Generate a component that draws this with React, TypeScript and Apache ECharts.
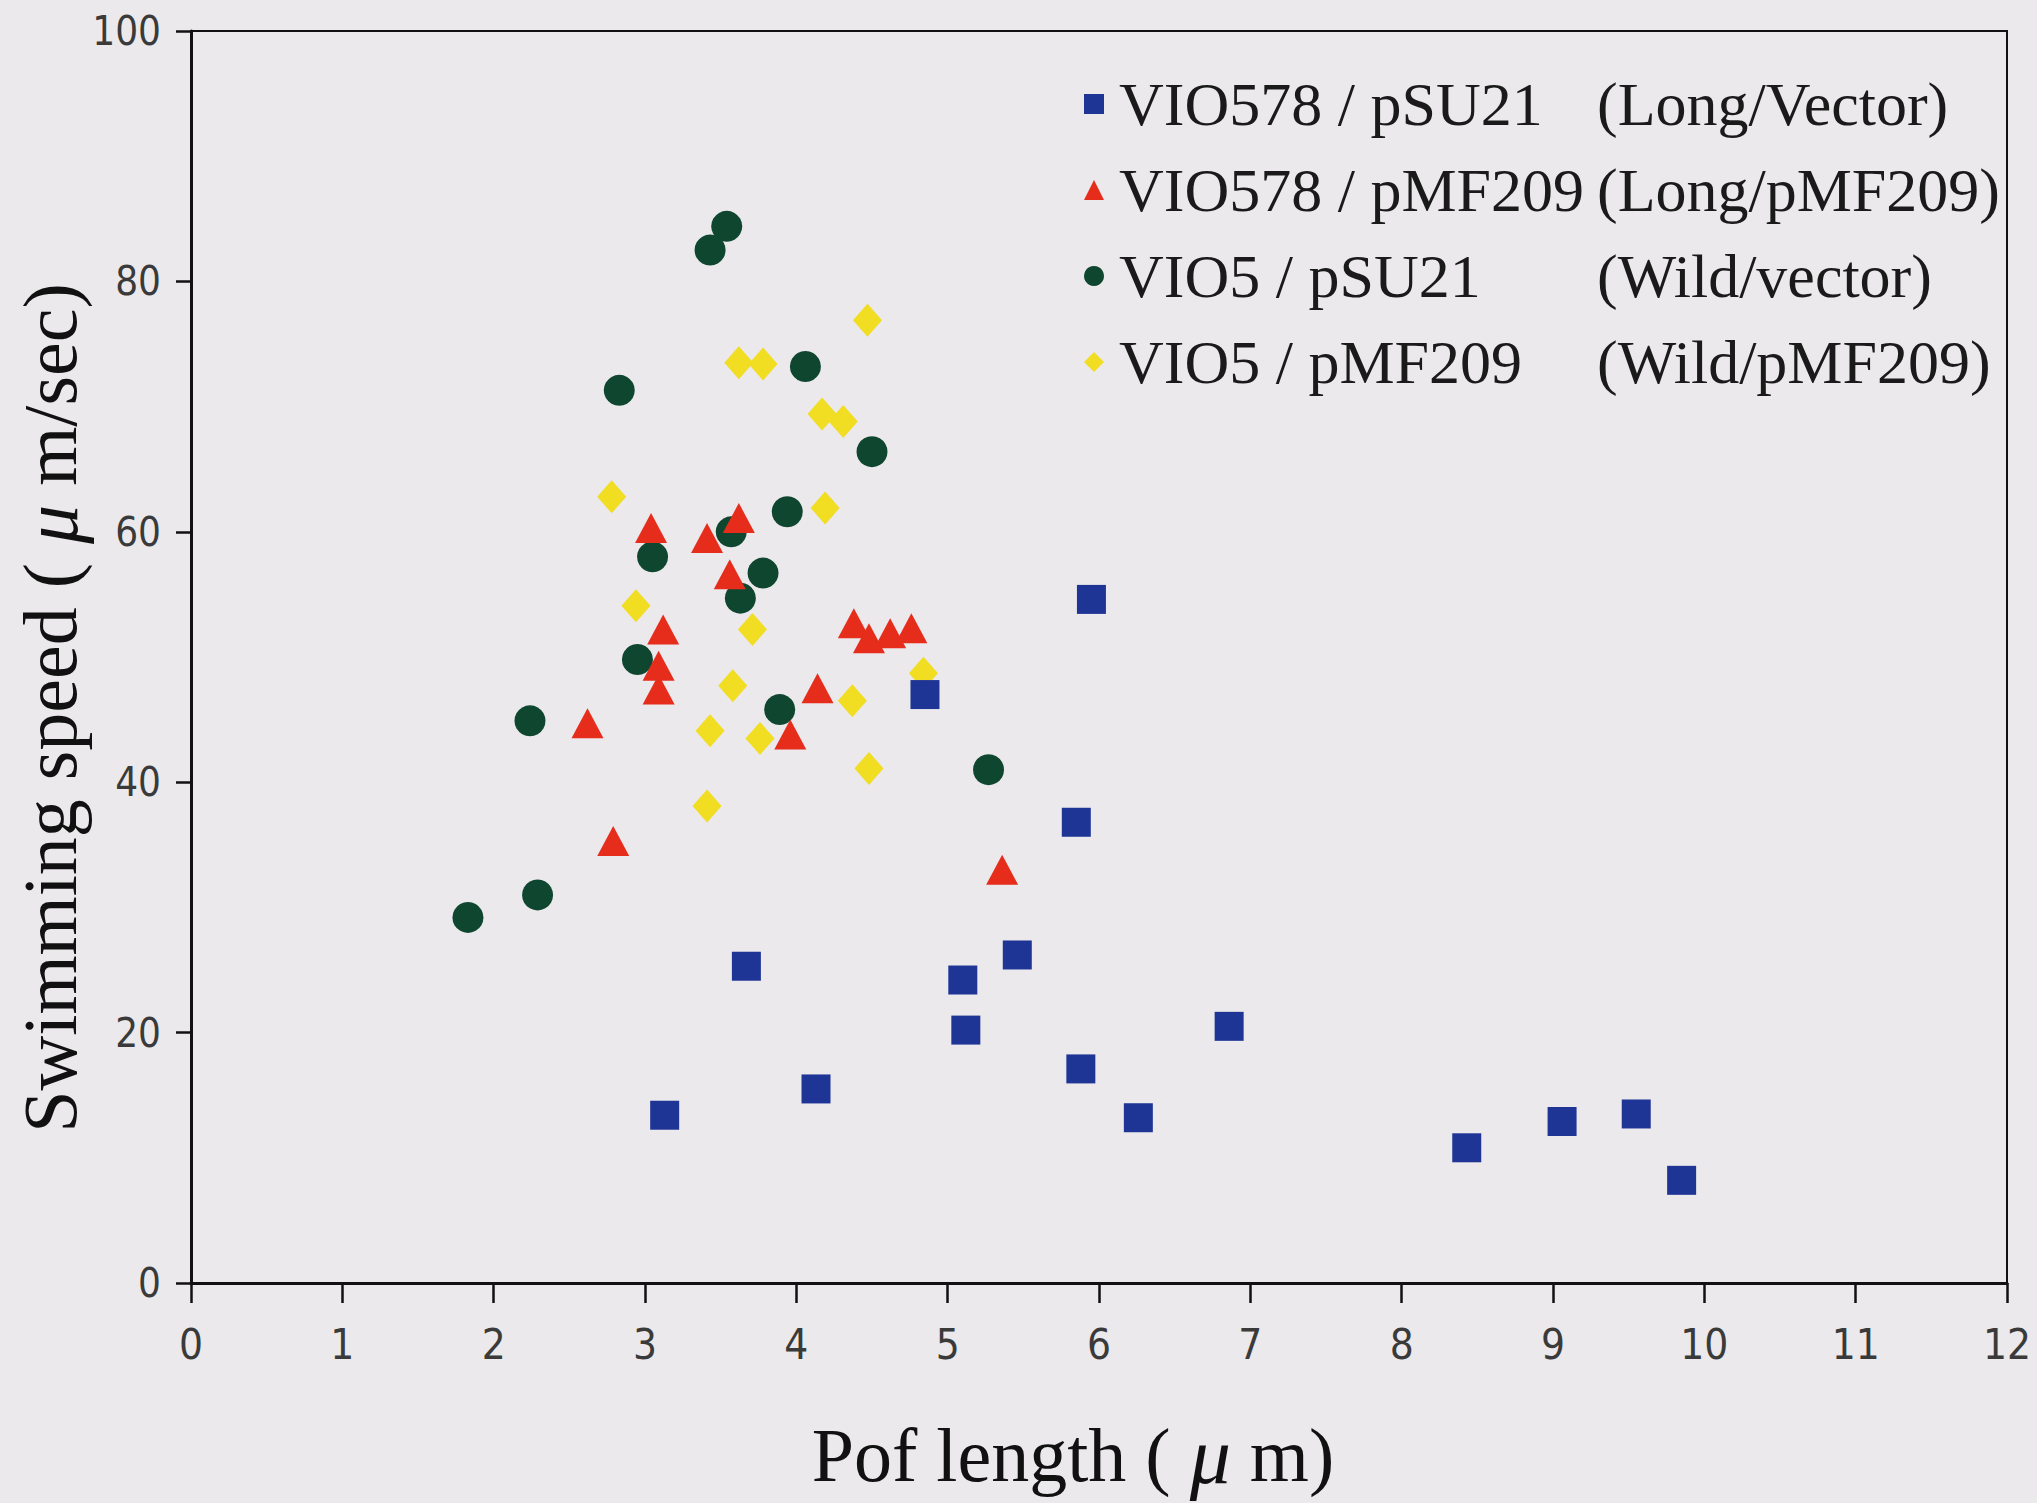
import React, { useEffect, useRef } from "react";
import * as echarts from "echarts";

// Series data: [Pof length (µm), swimming speed (µm/sec)]
const longVector: [number, number][] = [
  [3.13, 13.4], [3.67, 25.3], [4.13, 15.5], [4.85, 47.0], [5.10, 24.2], [5.12, 20.2],
  [5.46, 26.2], [5.85, 36.8], [5.95, 54.6], [5.88, 17.1], [6.26, 13.2], [6.86, 20.5],
  [8.43, 10.8], [9.06, 12.9], [9.55, 13.5], [9.85, 8.2],
];
const longPMF: [number, number][] = [
  [2.62, 44.7], [2.79, 35.3], [3.04, 60.3], [3.12, 52.2], [3.09, 49.3], [3.09, 47.4],
  [3.41, 59.5], [3.56, 56.6], [3.62, 61.1], [3.96, 43.8], [4.14, 47.5], [4.38, 52.7],
  [4.48, 51.5], [4.62, 51.9], [4.76, 52.3], [5.36, 33.0],
];
const wildVector: [number, number][] = [
  [1.83, 29.2], [2.24, 44.9], [2.29, 31.0], [2.83, 71.3], [2.95, 49.8], [3.05, 58.0],
  [3.43, 82.5], [3.54, 84.4], [3.57, 60.0], [3.63, 54.7], [3.78, 56.7], [3.89, 45.8],
  [3.94, 61.6], [4.06, 73.2], [4.50, 66.4], [5.27, 41.0],
];
const wildPMF: [number, number][] = [
  [2.78, 62.8], [2.94, 54.1], [3.41, 38.1], [3.43, 44.1], [3.58, 47.7], [3.62, 73.5],
  [3.71, 52.2], [3.76, 43.5], [3.78, 73.4], [4.17, 69.4], [4.19, 61.9], [4.31, 68.8],
  [4.37, 46.5], [4.47, 76.9], [4.48, 41.1], [4.84, 48.7],
];

const seriesNames = ["VIO578 / pSU21", "VIO578 / pMF209", "VIO5 / pSU21", "VIO5 / pMF209"];
const seriesDesc = ["(Long/Vector)", "(Long/pMF209)", "(Wild/vector)", "(Wild/pMF209)"];

const xTitle = "Pof length";
const yTitle = "Swimming speed";

const SERIF = "'Liberation Serif', 'Times New Roman', serif";
const NARROW = "'Liberation Sans Narrow', 'DejaVu Sans Condensed', 'DejaVu Sans', sans-serif";

export default function App() {
  const ref = useRef<HTMLDivElement>(null);
  useEffect(() => {
    if (!ref.current) return;
    const chart = echarts.init(ref.current, null, { renderer: "svg" });
    const descOf = (n: string) => seriesDesc[seriesNames.indexOf(n)];
    chart.setOption({
      animation: false,
      backgroundColor: "#ebe9eb",
      grid: {
        left: 191, right: 30, top: 31, bottom: 220,
        show: true, borderColor: "#111", borderWidth: 2, backgroundColor: "transparent",
      },
      legend: {
        orient: "vertical",
        left: 1079,
        top: 68,
        itemGap: 24,
        itemWidth: 20,
        itemHeight: 20,
        data: [
          { name: seriesNames[0], icon: "rect" },
          { name: seriesNames[1], icon: "triangle" },
          { name: seriesNames[2], icon: "circle" },
          { name: seriesNames[3], icon: "diamond" },
        ],
        formatter: (n: string) => `{a|${n}}{b|${descOf(n)}}`,
        textStyle: {
          color: "#1a1a1a",
          fontFamily: SERIF,
          fontSize: 62,
          rich: {
            a: { width: 478, padding: [0, 0, 0, 10], fontFamily: SERIF, fontSize: 62, color: "#1a1a1a", lineHeight: 64 },
            b: { fontFamily: SERIF, fontSize: 62, color: "#1a1a1a", lineHeight: 64 },
          },
        },
      },
      xAxis: {
        type: "value",
        min: 0, max: 12, interval: 1,
        axisLine: { show: true, lineStyle: { color: "#111", width: 3 } },
        axisTick: { show: true, length: 20, lineStyle: { color: "#111", width: 2.5 } },
        axisLabel: { margin: 40, fontSize: 42, color: "#3a3a3a", fontFamily: NARROW },
        splitLine: { show: false },
      },
      yAxis: {
        type: "value",
        min: 0, max: 100, interval: 20,
        axisLine: { show: true, lineStyle: { color: "#111", width: 3 } },
        axisTick: { show: true, length: 15, lineStyle: { color: "#111", width: 2.5 } },
        axisLabel: { margin: 30, fontSize: 40, color: "#3a3a3a", fontFamily: NARROW },
        splitLine: { show: false },
      },
      graphic: [
        {
          type: "text",
          x: 1073, y: 1455,
          style: {
            text: `${xTitle} ( {mu|μ} m)`,
            fontFamily: SERIF, fontSize: 76, fill: "#111",
            align: "center", verticalAlign: "middle",
            rich: { mu: { fontFamily: SERIF, fontSize: 82, fontStyle: "italic", fill: "#111" } },
          },
        },
        {
          type: "text",
          x: 50, y: 708,
          rotation: Math.PI / 2,
          style: {
            text: `${yTitle} ( {mu|μ} m/sec)`,
            fontFamily: SERIF, fontSize: 76, fill: "#111",
            align: "center", verticalAlign: "middle",
            rich: { mu: { fontFamily: SERIF, fontSize: 78, fontStyle: "italic", fill: "#111" } },
          },
        },
      ],
      series: [
        {
          name: seriesNames[3], type: "scatter", symbol: "diamond", symbolSize: [29, 33],
          itemStyle: { color: "#f1dd22", opacity: 1 }, data: wildPMF, z: 2,
        },
        {
          name: seriesNames[2], type: "scatter", symbol: "circle", symbolSize: 31,
          itemStyle: { color: "#0f4630", opacity: 1 }, data: wildVector, z: 3,
        },
        {
          name: seriesNames[1], type: "scatter", symbol: "triangle", symbolSize: [32, 30],
          itemStyle: { color: "#e62d1c", opacity: 1 }, data: longPMF, z: 4,
        },
        {
          name: seriesNames[0], type: "scatter", symbol: "rect", symbolSize: 29,
          itemStyle: { color: "#1f3596", opacity: 1 }, data: longVector, z: 5,
        },
      ],
    });
    return () => chart.dispose();
  }, []);
  return (
    <div
      ref={ref}
      style={{ position: "fixed", left: 0, top: 0, width: 2037, height: 1503, background: "#ebe9eb" }}
    />
  );
}
